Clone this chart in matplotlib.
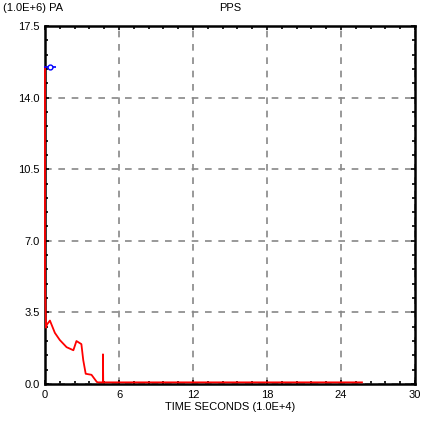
import matplotlib
matplotlib.use("Agg")
import matplotlib.pyplot as plt
from matplotlib.ticker import MultipleLocator

# Data (time in 1.0E+4 s, pressure in 1.0E+6 Pa)
time = [0.0, 0.0, 0.08, 0.15, 0.4, 0.8, 1.2, 1.75, 2.3, 2.55, 2.95, 3.1, 3.3, 3.77, 4.2, 4.3, 4.7, 4.7, 4.72, 25.7]
pressure = [15.5, 4.9, 2.75, 2.9, 3.1, 2.5, 2.15, 1.8, 1.65, 2.1, 1.95, 1.17, 0.5, 0.45, 0.1, 0.08, 0.08, 1.45, 0.08, 0.08]
meas_time = [0.4]
meas_value = [15.5]
meas_xerr = [0.5]

x_ticks = [0, 6, 12, 18, 24, 30]
y_ticks = [0.0, 3.5, 7.0, 10.5, 14.0, 17.5]

plt.rcParams['font.family'] = ['Liberation Sans', 'DejaVu Sans']
fig = plt.figure(figsize=(4.23, 4.21), dpi=100)
ax = fig.add_axes([45/423, 1-384/421, (415-45)/423, (384-26)/421])

ax.plot(time, pressure, color='red', lw=1.3, zorder=5, clip_on=False)
ax.errorbar(meas_time, meas_value, xerr=meas_xerr, fmt='o', mfc='white', mec='blue',
            ecolor='blue', ms=3.5, mew=1.0, elinewidth=1.2, capsize=0, zorder=6, clip_on=False)

ax.set_xlim(0, 30)
ax.set_ylim(0, 17.5)
ax.set_xticks(x_ticks)
ax.set_xticklabels([str(t) for t in x_ticks])
ax.set_yticks(y_ticks)
ax.set_yticklabels(['%.1f' % t for t in y_ticks])
ax.xaxis.set_minor_locator(MultipleLocator(1.2))
ax.yaxis.set_minor_locator(MultipleLocator(0.7))
ax.tick_params(which='both', direction='in', top=True, right=True, labelsize=8)
ax.tick_params(axis='x', pad=4)
ax.tick_params(axis='y', pad=4)
ax.tick_params(which='major', length=3, width=1.2)
ax.tick_params(which='minor', length=2.5, width=1.2)
ax.grid(True, which='major', color='#888888', linestyle=(0, (4, 4)), lw=1.2)
for s in ax.spines.values():
    s.set_linewidth(1.8)
    s.set_color('black')

ax.set_xlabel('TIME SECONDS (1.0E+4)', fontsize=8, labelpad=2)
fig.text(230/423, 1-8/421, 'PPS', ha='center', va='center', fontsize=8)
fig.text(3/423, 1-8/421, '(1.0E+6) PA', ha='left', va='center', fontsize=8)

fig.savefig('out.png', dpi=100)
